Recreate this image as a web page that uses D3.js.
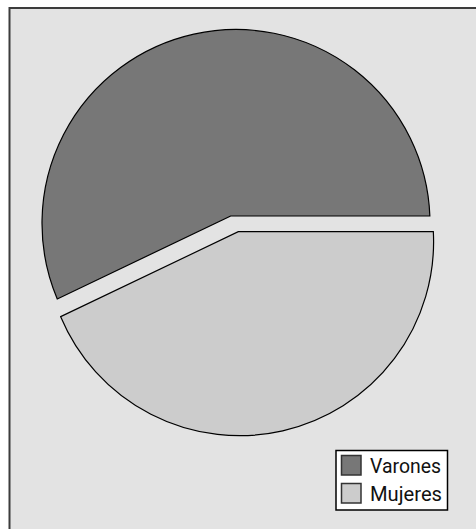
<!DOCTYPE html>
<html>
<head>
<meta charset="utf-8">
<script src="https://cdn.jsdelivr.net/npm/d3@7"></script>
<style>
  html, body { margin: 0; padding: 0; background: #ffffff; }
  svg { display: block; }
</style>
</head>
<body>
<svg id="chart" width="476" height="529"></svg>
<script>
// ---- data ----
const categories = ["Varones", "Mujeres"];
const values = [57.1, 42.9];
const colors = ["#777777", "#cccccc"];

// ---- layout ----
const W = 476, H = 529;
const radius = 194;
// circle centres of each (exploded) slice and the apex point of each slice
const centres = [[236, 223.5], [239.6, 241.7]];
const apexes = [[230.7, 216], [238.3, 231.7]];

const svg = d3.select("#chart");

svg.append("rect")
  .attr("x", 9.5).attr("y", 8)
  .attr("width", W + 20).attr("height", H + 20)
  .attr("fill", "#e3e3e3")
  .attr("stroke", "#3c3c3c")
  .attr("stroke-width", 2);

// Varones goes counter-clockwise from 3 o'clock, Mujeres continues
const pie = d3.pie().sort(null).value(d => d)
  .startAngle(Math.PI / 2)
  .endAngle(Math.PI / 2 - 2 * Math.PI);
const arcs = pie(values);

function rayHit(A, C, theta, r) {
  const dx = Math.sin(theta), dy = -Math.cos(theta);
  const ox = A[0] - C[0], oy = A[1] - C[1];
  const b = dx * ox + dy * oy;
  const c = ox * ox + oy * oy - r * r;
  const t = -b + Math.sqrt(b * b - c);
  return [A[0] + t * dx, A[1] + t * dy];
}

function slicePath(a, i) {
  const A = apexes[i], C = centres[i];
  const t0 = Math.min(a.startAngle, a.endAngle);
  const t1 = Math.max(a.startAngle, a.endAngle);
  const P0 = rayHit(A, C, t0, radius);
  const P1 = rayHit(A, C, t1, radius);
  const a0 = Math.atan2(P0[1] - C[1], P0[0] - C[0]);
  let a1 = Math.atan2(P1[1] - C[1], P1[0] - C[0]);
  while (a1 <= a0) a1 += 2 * Math.PI;
  const p = d3.path();
  p.moveTo(A[0], A[1]);
  p.lineTo(P0[0], P0[1]);
  p.arc(C[0], C[1], radius, a0, a1, false);
  p.closePath();
  return p.toString();
}

svg.append("g").selectAll("path")
  .data(arcs)
  .join("path")
  .attr("d", (d, i) => slicePath(d, i))
  .attr("fill", (d, i) => colors[i])
  .attr("stroke", "#000")
  .attr("stroke-width", 1.2)
  .attr("stroke-linejoin", "miter");

// ---- legend ----
const lg = svg.append("g").attr("transform", "translate(336,450.5)");
lg.append("rect")
  .attr("width", 111.5).attr("height", 59.5)
  .attr("fill", "#ffffff")
  .attr("stroke", "#000").attr("stroke-width", 1.5);
const items = lg.selectAll("g.item")
  .data(categories)
  .join("g")
  .attr("class", "item")
  .attr("transform", (d, i) => `translate(5.5,${5 + i * 28})`);
items.append("rect")
  .attr("width", 19.5).attr("height", 19.5)
  .attr("fill", (d, i) => colors[i])
  .attr("stroke", "#333").attr("stroke-width", 1.5);
items.append("text")
  .attr("x", 28.5).attr("y", 17.8)
  .attr("font-family", "Roboto, sans-serif")
  .attr("font-size", 20)
  .attr("textLength", (d, i) => i === 0 ? 71 : 72)
  .attr("lengthAdjust", "spacingAndGlyphs")
  .attr("fill", "#111")
  .text(d => d);
</script>
</body>
</html>
